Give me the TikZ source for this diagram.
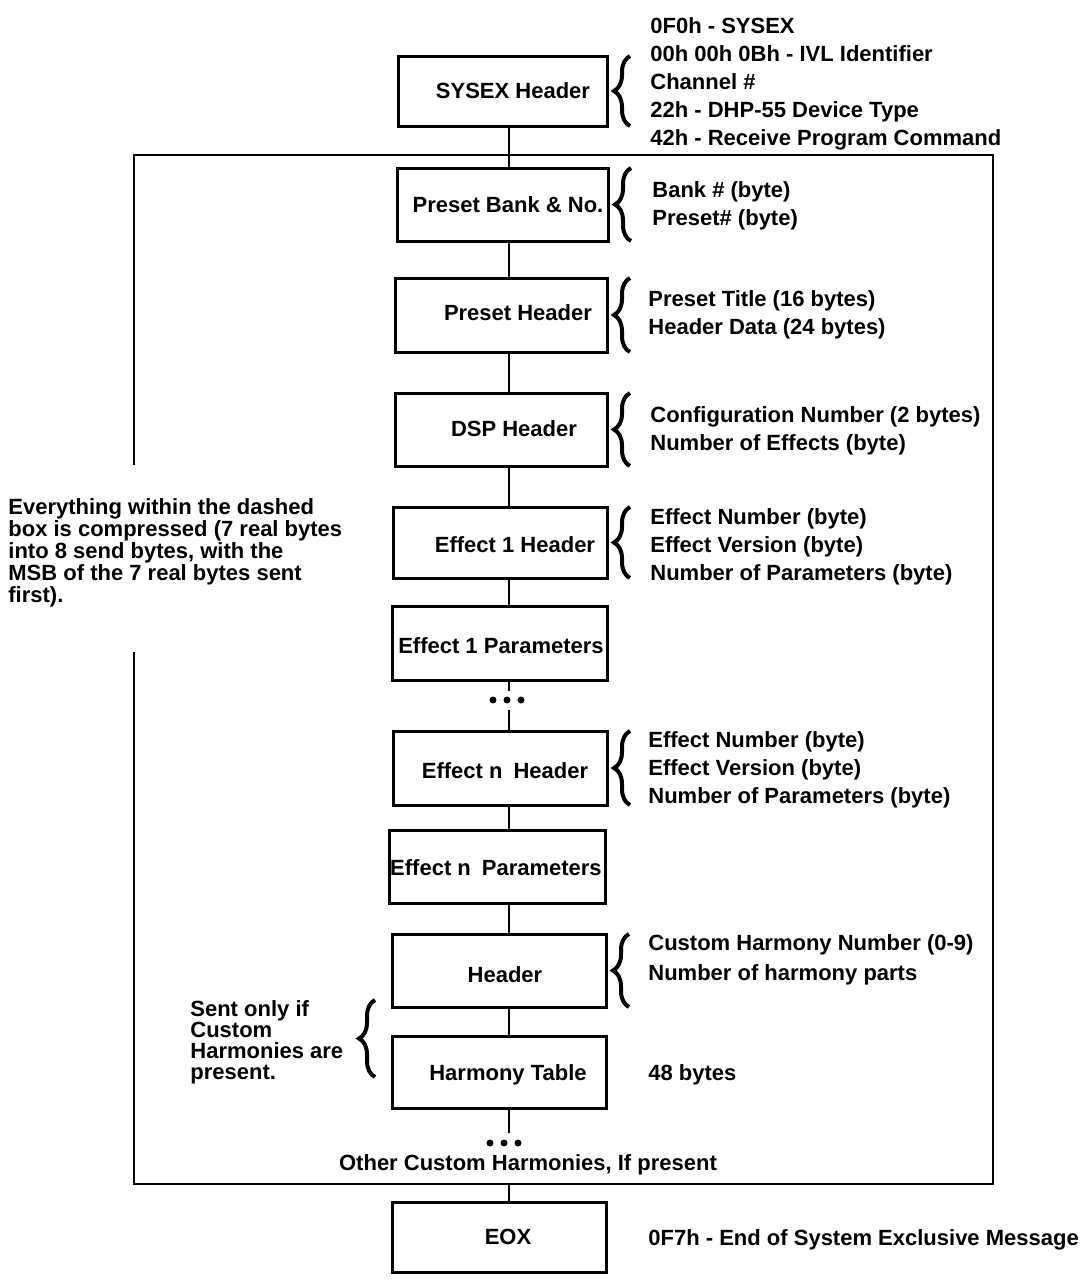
\documentclass[tikz,border=0pt]{standalone}
\usepackage{fontspec}
\setmainfont{Liberation Sans}
\usetikzlibrary{decorations.pathreplacing}
\newcommand\mybox[5]{\node[blk, minimum width={(#3-#2)*0.5pt}, minimum height={(#5-#4)*0.5pt}] (#1) at ({(#2+#3)/2},{(#4+#5)/2}) {};}
\begin{document}
\begin{tikzpicture}[x=0.5pt,y=-0.5pt,
  blk/.style={draw, line width=1.5pt, inner sep=0pt, outer sep=0pt},
  lbl/.style={font=\fontsize{11}{14}\selectfont\bfseries, inner sep=0pt},
  note/.style={font=\fontsize{11}{14}\selectfont\bfseries, align=left, anchor=west, inner sep=0pt},
  tight/.style={font=\fontsize{11}{11}\selectfont\bfseries, align=left, anchor=west, inner sep=0pt},
  conn/.style={line width=1pt},
  frame/.style={line width=0.7pt},
  brc/.style={decorate, decoration={brace, amplitude=8pt}, line width=2pt},
  dotn/.style={circle, fill, inner sep=0pt, minimum size=3.5pt}]
\useasboundingbox (0,0) rectangle (1080,1282);
\coordinate (sp) at (509,0);
% dashed-box frame (drawn with a gap for the note)
\coordinate (fa) at (134,465);
\coordinate (fb) at (134,652);
\coordinate (fbot) at (509,1184);
\draw[frame] (fa) -- (134,155) -- (993,155) -- (993,1184) -- (134,1184) -- (fb);
% boxes
\mybox{sysex}{398}{607}{56}{126}
\mybox{pbank}{397}{608}{168}{241}
\mybox{phead}{395}{607}{278}{352}
\mybox{dsp}{395}{607}{393}{466}
\mybox{eoneh}{393}{607}{507}{578}
\mybox{eonep}{392}{607}{606}{680}
\mybox{enh}{393}{607}{731}{805}
\mybox{enp}{389}{605}{830}{903}
\mybox{hh}{392}{606}{934}{1007}
\mybox{ht}{392}{606}{1036}{1108}
\mybox{eox}{392}{606}{1202}{1272}
% box labels
\node[lbl] (tsysex) at (513,91) {SYSEX Header};
\node[lbl] (tpbank) at (508,205) {Preset Bank \& No.};
\node[lbl] (tphead) at (518,313) {Preset Header};
\node[lbl] (tdsp) at (514,429) {DSP Header};
\node[lbl] (teoneh) at (515,545) {Effect 1 Header};
\node[lbl] (teonep) at (501,646) {Effect 1 Parameters};
\node[lbl] (tenh) at (505,771) {Effect n\enspace Header};
\node[lbl] (tenp) at (496,868) {Effect n\enspace Parameters};
\node[lbl] (thh) at (505,975) {Header};
\node[lbl] (tht) at (508,1075) {Harmony Table};
\node[lbl] (teox) at (508,1237) {EOX};
% connectors
\coordinate (d1t) at (509,691);
\coordinate (d1b) at (509,710);
\coordinate (d2t) at (509,1133);
\draw[conn] (sysex.south -| sp) -- (pbank.north -| sp);
\draw[conn] (pbank.south -| sp) -- (phead.north -| sp);
\draw[conn] (phead.south -| sp) -- (dsp.north -| sp);
\draw[conn] (dsp.south -| sp) -- (eoneh.north -| sp);
\draw[conn] (eoneh.south -| sp) -- (eonep.north -| sp);
\draw[conn] (eonep.south -| sp) -- (d1t);
\draw[conn] (d1b) -- (enh.north -| sp);
\draw[conn] (enh.south -| sp) -- (enp.north -| sp);
\draw[conn] (enp.south -| sp) -- (hh.north -| sp);
\draw[conn] (hh.south -| sp) -- (ht.north -| sp);
\draw[conn] (ht.south -| sp) -- (d2t);
\draw[conn] (fbot) -- (eox.north -| sp);
% dots
\node[dotn] (da1) at (493,700) {};
\node[dotn] (da2) at (507,700) {};
\node[dotn] (da3) at (521,700) {};
\node[dotn] (db1) at (490,1143) {};
\node[dotn] (db2) at (504,1143) {};
\node[dotn] (db3) at (518,1143) {};
\node[lbl] (other) at (528,1165) {Other Custom Harmonies, If present};
% braces
\foreach \b in {sysex,pbank,phead,dsp,eoneh,enh,hh}{
  \draw[brc] ([xshift=11.5pt]\b.south east) -- ([xshift=11.5pt]\b.north east);
}
\draw[brc] (375,1077) -- (375,1000);
% notes
\node[note] (nsysex) at (650,83.5) {0F0h - SYSEX\\00h 00h 0Bh - IVL Identifier\\Channel \#\\22h - DHP-55 Device Type\\42h - Receive Program Command};
\node[note] (npbank) at (652,205.5) {Bank \# (byte)\\Preset\# (byte)};
\node[note] (nphead) at (648,314.5) {Preset Title (16 bytes)\\Header Data (24 bytes)};
\node[note] (ndsp) at (650,430.5) {Configuration Number (2 bytes)\\Number of Effects (byte)};
\node[note] (neoneh) at (650,547) {Effect Number (byte)\\Effect Version (byte)\\Number of Parameters (byte)};
\node[note] (nenh) at (648,770) {Effect Number (byte)\\Effect Version (byte)\\Number of Parameters (byte)};
\node[note, font=\fontsize{11}{15}\selectfont\bfseries] (nhh) at (648,960) {Custom Harmony Number (0-9)\\Number of harmony parts};
\node[note] (nht) at (648,1075) {48 bytes};
\node[note] (neox) at (648,1240) {0F7h - End of System Exclusive Message};
\node[tight] (ncomp) at (8,552.5) {Everything within the dashed\\box is compressed (7 real bytes\\into 8 send bytes, with the\\MSB of the 7 real bytes sent\\first).};
\node[tight, font=\fontsize{11}{10.5}\selectfont\bfseries] (nsent) at (190,1042) {Sent only if\\Custom\\Harmonies are\\present.};
\end{tikzpicture}
\end{document}
